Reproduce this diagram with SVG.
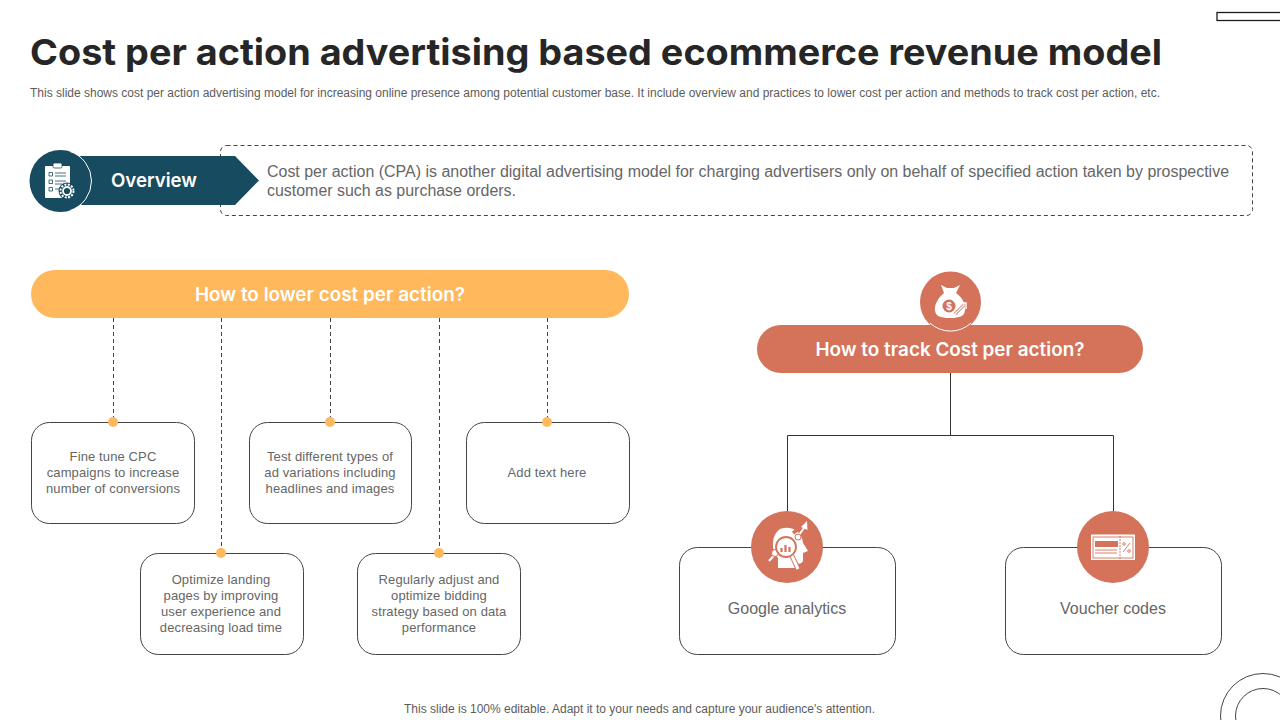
<svg xmlns="http://www.w3.org/2000/svg" width="1280" height="720" viewBox="0 0 1280 720">
<style>
text{font-family:"Liberation Sans",Arial,sans-serif;fill:#666}
.title{font-family:"Inter","Open Sans",sans-serif;font-weight:700;font-size:36px;fill:#262626}
.sub{font-size:12px;fill:#5c5c5c}
.desc{font-size:16px;fill:#666}
.head{font-family:"Inter","Open Sans",sans-serif;font-weight:600;font-size:18.500px;fill:#fff;text-anchor:middle}
.card{fill:#fff;stroke:#444;stroke-width:1}
.ct{font-size:13px;text-anchor:middle;letter-spacing:.12px}
.big{font-size:16px;text-anchor:middle}
.dash{fill:none;stroke:#444;stroke-width:1;stroke-dasharray:4 3}
.line{fill:none;stroke:#333;stroke-width:1}
.dot{fill:#FFB85C}
.ic{fill:#fff}
.ics{fill:none;stroke:#fff;stroke-width:1.600}
.icr{fill:none;stroke:#D4725A;stroke-width:.9}
.badge{fill:#D4725A}
</style>
<g id="decor">
<rect x="1217" y="12.500" width="70" height="8" fill="#fff" stroke="#1c1c1c" stroke-width="1.300"/>
<circle cx="1263" cy="716" r="42.500" fill="none" stroke="#444" stroke-width="1"/>
<circle cx="1263" cy="716" r="27.500" fill="none" stroke="#444" stroke-width="1"/>
</g>
<g id="header">
<text class="title" x="30" y="64.500" textLength="1132" lengthAdjust="spacingAndGlyphs">Cost per action advertising based ecommerce revenue model</text>
<text class="sub" x="30" y="97" textLength="1130" lengthAdjust="spacingAndGlyphs">This slide shows cost per action advertising model for increasing online presence among potential customer base. It include overview and practices to lower cost per action and methods to track cost per action, etc.</text>
</g>
<g id="overview-text">
<rect x="220.500" y="145.500" width="1032" height="70" rx="6" fill="#fff" stroke="#444" stroke-width="1" stroke-dasharray="4 3"/>
<text class="desc" x="267" y="177" textLength="962" lengthAdjust="spacingAndGlyphs">Cost per action (CPA) is another digital advertising model for charging advertisers only on behalf of specified action taken by prospective</text>
<text class="desc" x="267" y="196" textLength="249" lengthAdjust="spacingAndGlyphs">customer such as purchase orders.</text>
</g>
<g id="overview-badge">
<path d="M80 156H235L259 180.500L235 205H80Z" fill="#164B60"/>
<circle cx="60.500" cy="181" r="31" fill="#164B60"/>
<path d="M70 151.500A31 31 0 0 1 70 210.500" fill="none" stroke="#fff" stroke-width="1"/>
<text x="154" y="187" font-size="19" textLength="86" lengthAdjust="spacingAndGlyphs" style="font-family:Inter,'Open Sans',sans-serif;font-weight:600;fill:#fff;text-anchor:middle">Overview</text>
<rect x="45" y="166" width="25" height="32" fill="#fff" rx="1"/>
<rect x="53" y="163" width="9" height="5" rx="1.500" fill="#fff" stroke="#164B60" stroke-width=".8"/>
<path d="M49 172.500h3.500v3.500h-3.500zM49 180h3.500v3.500h-3.500zM49 187.500h3.500v3.500h-3.500zM55 173h11M55 176h11M55 181h11M55 184h7M55 189h4" fill="none" stroke="#164B60" stroke-width=".8"/>
<circle cx="67" cy="191" r="8.500" fill="#164B60"/>
<circle cx="67" cy="191" r="6.500" fill="none" stroke="#fff" stroke-width="2" stroke-dasharray="2 1.400"/>
<circle cx="67" cy="191" r="4" fill="none" stroke="#fff" stroke-width="1.800"/>
</g>
<g id="connectors">
<path class="dash" d="M113.500 318V422M221.500 318V553M330.500 318V422M439.500 318V553M547.500 318V422"/>
<path class="line" d="M950.500 373V435.500M787.500 511V435.500H1113.500V511"/>
</g>
<g id="lower-head">
<rect x="31" y="270" width="598" height="48" rx="24" fill="#FFB85C"/>
<text class="head" x="330" y="300.500" textLength="270" lengthAdjust="spacingAndGlyphs">How to lower cost per action?</text>
</g>
<g id="card-1">
<rect class="card" x="31.500" y="422.500" width="163" height="101" rx="18"/>
<circle class="dot" cx="113" cy="422" r="5"/>
<text class="ct" x="113" y="461">Fine tune CPC</text>
<text class="ct" x="113" y="477">campaigns to increase</text>
<text class="ct" x="113" y="493">number of conversions</text>
</g>
<g id="card-2">
<rect class="card" x="140.500" y="553.500" width="163" height="101" rx="18"/>
<circle class="dot" cx="221" cy="553" r="5"/>
<text class="ct" x="221" y="584">Optimize landing</text>
<text class="ct" x="221" y="600">pages by improving</text>
<text class="ct" x="221" y="616">user experience and</text>
<text class="ct" x="221" y="632">decreasing load time</text>
</g>
<g id="card-3">
<rect class="card" x="249.500" y="422.500" width="162" height="101" rx="18"/>
<circle class="dot" cx="330" cy="422" r="5"/>
<text class="ct" x="330" y="461">Test different types of</text>
<text class="ct" x="330" y="477">ad variations including</text>
<text class="ct" x="330" y="493">headlines and images</text>
</g>
<g id="card-4">
<rect class="card" x="357.500" y="553.500" width="163" height="101" rx="18"/>
<circle class="dot" cx="439" cy="553" r="5"/>
<text class="ct" x="439" y="584">Regularly adjust and</text>
<text class="ct" x="439" y="600">optimize bidding</text>
<text class="ct" x="439" y="616">strategy based on data</text>
<text class="ct" x="439" y="632">performance</text>
</g>
<g id="card-5">
<rect class="card" x="466.500" y="422.500" width="163" height="101" rx="18"/>
<circle class="dot" cx="547" cy="422" r="5"/>
<text class="ct" x="547" y="477">Add text here</text>
</g>
<g id="track-head">
<rect x="757" y="325" width="386" height="48" rx="24" fill="#D4725A"/>
<text class="head" x="950" y="355.500" textLength="269" lengthAdjust="spacingAndGlyphs">How to track Cost per action?</text>
<circle class="badge" cx="950.500" cy="302" r="30.500"/>
<path d="M930 323A30 30 0 0 0 971 323" fill="none" stroke="#fff" stroke-width="1"/>
<path class="ic" d="M941 285L947 288H954L960 285L956 293C963 298 966 305 965 311C964 316 960 318 950 318C940 318 936 316 935 311C934 305 938 298 944 293Z"/>
<circle class="badge" cx="949" cy="306" r="6.500"/>
<text x="949" y="310" font-size="10" style="fill:#fff;text-anchor:middle;font-weight:700">$</text>
<path d="M955 314L964 305" fill="none" stroke="#D4725A" stroke-width="3"/>
<path d="M955 314L964 305M960 303H966V309" fill="none" stroke="#fff" stroke-width="1.400"/>
</g>
<g id="google-card">
<rect class="card" x="679.500" y="547.500" width="216" height="107" rx="18"/>
<circle class="badge" cx="787" cy="547" r="36"/>
<path class="ic" d="M780 529C790 525 802 530 803 543L808 551L803 553V560C803 563 800 564 795 564V568H778V558C771 550 771 535 780 529Z"/>
<path d="M769 561L777 552" stroke="#fff" stroke-width="2.200" fill="none"/>
<circle cx="775" cy="553" r="3.500" fill="#fff" stroke="#D4725A" stroke-width="1"/>
<path d="M793 533L804 525" stroke="#D4725A" stroke-width="3.500" fill="none"/>
<path d="M796 539L804 528" stroke="#fff" stroke-width="2" fill="none"/>
<circle cx="798" cy="537" r="3" fill="#fff" stroke="#D4725A" stroke-width="1"/>
<path class="ic" d="M801 527L807 521L807.500 530Z"/>
<circle cx="786" cy="547" r="10" fill="#fff" stroke="#D4725A" stroke-width="1.800"/>
<path d="M781.500 552v-4M785.500 552v-7M789.500 552v-5" stroke="#D4725A" stroke-width="2.200" fill="none"/>
<path d="M792 556L798 569" stroke="#D4725A" stroke-width="5" fill="none"/>
<path d="M792 556L798 569" stroke="#fff" stroke-width="3" fill="none"/>
<text class="big" x="787" y="614">Google analytics</text>
</g>
<g id="voucher-card">
<rect class="card" x="1005.500" y="547.500" width="216" height="107" rx="18"/>
<circle class="badge" cx="1113" cy="547" r="36"/>
<rect class="ic" x="1091" y="534.500" width="44" height="25.500"/>
<rect class="icr" x="1093" y="537" width="40" height="21"/>
<rect x="1095" y="541" width="23" height="6" fill="#D4725A"/>
<path class="icr" d="M1095 550h22M1095 553h22"/>
<path class="icr" d="M1120 536v24" stroke-dasharray="2 1"/>
<path d="M1123 552L1130 543" class="icr"/>
<circle cx="1124" cy="544" r="1.300" class="icr"/><circle cx="1129" cy="551" r="1.300" class="icr"/>
<text class="big" x="1113" y="614">Voucher codes</text>
</g>
<g id="footer">
<text x="639.500" y="713" font-size="12" style="text-anchor:middle;fill:#5c5c5c" textLength="471" lengthAdjust="spacingAndGlyphs">This slide is 100% editable. Adapt it to your needs and capture your audience's attention.</text>
</g>
</svg>
